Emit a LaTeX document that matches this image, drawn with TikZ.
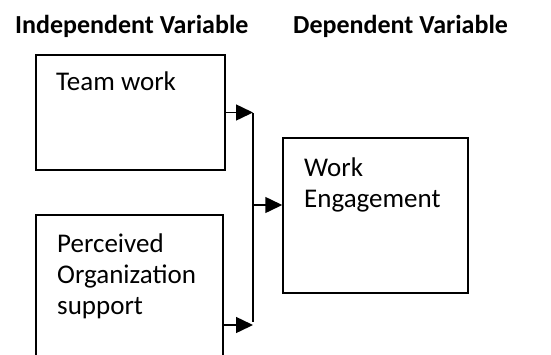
\documentclass[tikz,border=0pt]{standalone}
\usepackage{fontspec}
\setmainfont{Carlito}
\usepackage{tikz}
\usetikzlibrary{positioning,calc,arrows.meta}

\begin{document}
\begin{tikzpicture}[
	x=1pt, y=-1pt,
	% Khung biến
	var_box/.style={
		draw=black, line width=1.5pt,
		inner sep=0pt
	},
	% Chữ trong khung (đặt theo dòng cuối)
	box_text/.style={
		anchor=base west, inner sep=0pt, align=left,
		font=\fontsize{27}{31}\selectfont
	},
	% Tiêu đề cột
	title_text/.style={
		anchor=base west, inner sep=0pt,
		font=\fontsize{26}{30}\selectfont\bfseries
	},
	% Mũi tên
	flow_arrow/.style={
		-{Triangle[length=17pt,width=16pt]}, line width=1.5pt
	}
	]
	
	\clip (0,0) rectangle (551,354);
	
	% --- Tiêu đề ---
	\node[title_text] (iv_title) at (15,33) {Independent Variable};
	\node[title_text] (dv_title) at (293,33) {Dependent Variable};
	
	% --- Biến độc lập ---
	\node[var_box, minimum width=189pt, minimum height=115pt] (team) at (130.5,112.5) {};
	\node[box_text] (team_txt) at (56,90) {Team work};
	
	\node[var_box, minimum width=187pt, minimum height=220pt] (pos) at (129.5,325) {};
	\node[box_text] (pos_txt) at (57,314) {Perceived\\Organization\\support};
	
	% --- Biến phụ thuộc ---
	\node[var_box, minimum width=185pt, minimum height=155pt] (work) at (375.5,215.5) {};
	\node[box_text] (work_txt) at (304,207) {Work\\Engagement};
	
	% --- Đường nối ---
	\coordinate (join_top) at (253,113);
	\coordinate (join_bot) at (253,322);
	\coordinate (join_mid) at (254,205);
	
	\draw[line width=1.5pt] (join_top) -- (join_bot);
	\draw[flow_arrow] (team.east) -- (team.east -| join_top);
	\draw[flow_arrow] (pos.east) -- (pos.east -| join_bot);
	\draw[flow_arrow] (join_mid) -- (join_mid -| work.west);
	
\end{tikzpicture}
\end{document}
